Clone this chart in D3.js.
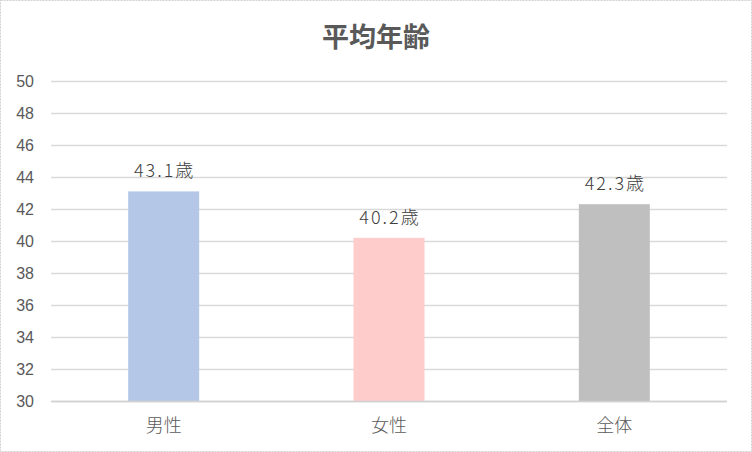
<!DOCTYPE html>
<html>
<head>
<meta charset="utf-8">
<script src="https://cdn.jsdelivr.net/npm/d3@7"></script>
<style>
  html, body { margin: 0; padding: 0; background: #fff; }
  svg { display: block; font-family: "Noto Sans CJK JP", "Noto Sans", sans-serif; }
</style>
</head>
<body>
<div id="chart"></div>
<script>
// データ
const categories = ["男性", "女性", "全体"];
const values = [43.1, 40.2, 42.3];
const barColors = ["#b4c7e7", "#ffcccc", "#bfbfbf"];
const yTicks = [30, 32, 34, 36, 38, 40, 42, 44, 46, 48, 50];
const title = "平均年齢";

const width = 752, height = 452;
const margin = { top: 81, right: 25, bottom: 51, left: 51 };

const svg = d3.select("#chart").append("svg")
    .attr("width", width)
    .attr("height", height);

// 外枠
svg.append("rect")
    .attr("x", 0.5).attr("y", 0.5)
    .attr("width", width - 1).attr("height", height - 1)
    .attr("fill", "#fff")
    .attr("stroke", "#d0d0d0")
    .attr("stroke-dasharray", "2,1");

const x = d3.scaleBand()
    .domain(categories)
    .range([margin.left, width - margin.right])
    .paddingInner(0.685)
    .paddingOuter(0.3425);

const y = d3.scaleLinear()
    .domain([30, 50])
    .range([height - margin.bottom, margin.top]);

// グリッド線
svg.append("g")
    .selectAll("line")
    .data(yTicks)
    .join("line")
    .attr("x1", margin.left)
    .attr("x2", width - margin.right)
    .attr("y1", d => y(d) + 0.5)
    .attr("y2", d => y(d) + 0.5)
    .attr("stroke", "#d9d9d9")
    .attr("stroke-width", 1.5);

// Y軸ラベル
const yAxis = svg.append("g")
    .attr("transform", `translate(${margin.left - 17},0)`)
    .call(d3.axisLeft(y).tickValues(yTicks).tickSize(0).tickPadding(0));
yAxis.select(".domain").remove();
yAxis.selectAll("text")
    .attr("fill", "#595959")
    .style("font-size", "16px")
    .style("font-family", "'Liberation Sans', Arial, sans-serif");

// 棒
svg.append("g")
    .selectAll("rect")
    .data(values)
    .join("rect")
    .attr("x", (d, i) => x(categories[i]))
    .attr("y", d => y(d))
    .attr("width", x.bandwidth())
    .attr("height", d => y(30) - y(d))
    .attr("fill", (d, i) => barColors[i]);

// 軸線 (下)
svg.append("line")
    .attr("x1", margin.left)
    .attr("x2", width - margin.right)
    .attr("y1", y(30) + 0.5)
    .attr("y2", y(30) + 0.5)
    .attr("stroke", "#d0d0d0")
    .attr("stroke-width", 1.5);

// データラベル
svg.append("g")
    .selectAll("text")
    .data(values)
    .join("text")
    .attr("x", (d, i) => x(categories[i]) + x.bandwidth() / 2 + 1)
    .attr("y", d => y(d) - 14)
    .attr("text-anchor", "middle")
    .attr("fill", "#404040")
    .style("font-size", "18px")
    .style("font-weight", "300")
    .style("letter-spacing", "2px")
    .text(d => d.toFixed(1) + "歳");

// X軸ラベル
const xAxis = svg.append("g")
    .attr("transform", `translate(0,${y(30)})`)
    .call(d3.axisBottom(x).tickSize(0).tickPadding(18));
xAxis.select(".domain").remove();
xAxis.selectAll("text")
    .attr("fill", "#595959")
    .style("font-size", "18px")
    .style("font-weight", "300")
    .style("font-family", "'Noto Sans CJK JP', sans-serif");

// タイトル
svg.append("text")
    .attr("x", width / 2)
    .attr("y", 47)
    .attr("text-anchor", "middle")
    .attr("fill", "#595959")
    .style("font-size", "27px")
    .style("font-weight", "bold")
    .text(title);
</script>
</body>
</html>
